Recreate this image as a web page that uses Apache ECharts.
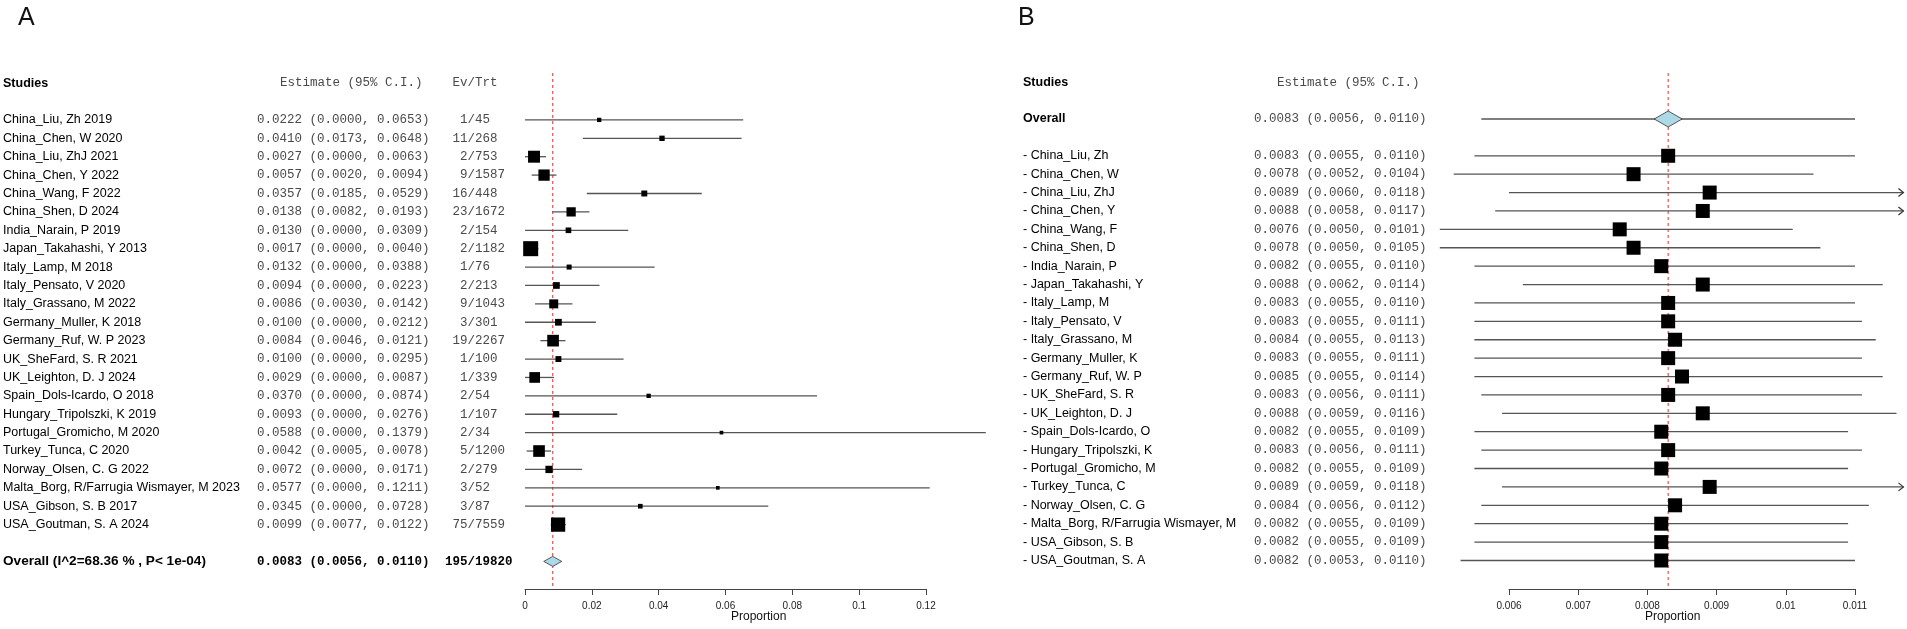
<!DOCTYPE html>
<html>
<head>
<meta charset="utf-8">
<script src="https://cdn.jsdelivr.net/npm/echarts@6/dist/echarts.min.js"></script>
<style>
  html, body { margin: 0; padding: 0; background: #fff; }
  #chart { width: 1907px; height: 629px; }
</style>
</head>
<body>
<div id="chart"></div>
<script>
// panel A - single studies
const studiesA = ['China_Liu, Zh 2019', 'China_Chen, W 2020', 'China_Liu, ZhJ 2021', 'China_Chen, Y 2022',
    'China_Wang, F 2022', 'China_Shen, D 2024', 'India_Narain, P 2019', 'Japan_Takahashi, Y 2013',
    'Italy_Lamp, M 2018', 'Italy_Pensato, V 2020', 'Italy_Grassano, M 2022', 'Germany_Muller, K 2018',
    'Germany_Ruf, W. P 2023', 'UK_SheFard, S. R 2021', 'UK_Leighton, D. J 2024', 'Spain_Dols-Icardo, O 2018',
    'Hungary_Tripolszki, K 2019', 'Portugal_Gromicho, M 2020', 'Turkey_Tunca, C 2020', 'Norway_Olsen, C. G 2022',
    'Malta_Borg, R/Farrugia Wismayer, M 2023', 'USA_Gibson, S. B 2017', 'USA_Goutman, S. A 2024'];
const estA = [0.0222, 0.0410, 0.0027, 0.0057, 0.0357, 0.0138, 0.0130, 0.0017, 0.0132, 0.0094, 0.0086, 0.0100,
    0.0084, 0.0100, 0.0029, 0.0370, 0.0093, 0.0588, 0.0042, 0.0072, 0.0577, 0.0345, 0.0099];
const lowA = [0.0000, 0.0173, 0.0000, 0.0020, 0.0185, 0.0082, 0.0000, 0.0000, 0.0000, 0.0000, 0.0030, 0.0000,
    0.0046, 0.0000, 0.0000, 0.0000, 0.0000, 0.0000, 0.0005, 0.0000, 0.0000, 0.0000, 0.0077];
const highA = [0.0653, 0.0648, 0.0063, 0.0094, 0.0529, 0.0193, 0.0309, 0.0040, 0.0388, 0.0223, 0.0142, 0.0212,
    0.0121, 0.0295, 0.0087, 0.0874, 0.0276, 0.1379, 0.0078, 0.0171, 0.1211, 0.0728, 0.0122];
const eventsA = [1, 11, 2, 9, 16, 23, 2, 2, 1, 2, 9, 3, 19, 1, 1, 2, 1, 2, 5, 2, 3, 3, 75];
const totalA = [45, 268, 753, 1587, 448, 1672, 154, 1182, 76, 213, 1043, 301, 2267, 100, 339, 54, 107, 34,
    1200, 279, 52, 87, 7559];
// study weights (%)
const weightA = [1.1, 1.7, 8.5, 7.6, 2.1, 5.1, 1.9, 13.4, 1.5, 2.7, 4.8, 2.7, 8.1, 2.1, 6.8, 1.1, 2.4, 0.8,
    8.1, 3.2, 0.8, 1.3, 12.1];
const overallA = [0.0083, 0.0056, 0.0110];
const overallEvTrtA = [195, 19820];
const overallLabelA = 'Overall (I^2=68.36 % , P< 1e-04)';
const ticksA = [0, 0.02, 0.04, 0.06, 0.08, 0.1, 0.12];

// panel B - leave-one-out
const studiesB = ['- China_Liu, Zh', '- China_Chen, W', '- China_Liu, ZhJ', '- China_Chen, Y', '- China_Wang, F',
    '- China_Shen, D', '- India_Narain, P', '- Japan_Takahashi, Y', '- Italy_Lamp, M', '- Italy_Pensato, V',
    '- Italy_Grassano, M', '- Germany_Muller, K', '- Germany_Ruf, W. P', '- UK_SheFard, S. R', '- UK_Leighton, D. J',
    '- Spain_Dols-Icardo, O', '- Hungary_Tripolszki, K', '- Portugal_Gromicho, M', '- Turkey_Tunca, C',
    '- Norway_Olsen, C. G', '- Malta_Borg, R/Farrugia Wismayer, M', '- USA_Gibson, S. B', '- USA_Goutman, S. A'];
const estB = [0.0083, 0.0078, 0.0089, 0.0088, 0.0076, 0.0078, 0.0082, 0.0088, 0.0083, 0.0083, 0.0084, 0.0083,
    0.0085, 0.0083, 0.0088, 0.0082, 0.0083, 0.0082, 0.0089, 0.0084, 0.0082, 0.0082, 0.0082];
const lowB = [0.0055, 0.0052, 0.0060, 0.0058, 0.0050, 0.0050, 0.0055, 0.0062, 0.0055, 0.0055, 0.0055, 0.0055,
    0.0055, 0.0056, 0.0059, 0.0055, 0.0056, 0.0055, 0.0059, 0.0056, 0.0055, 0.0055, 0.0053];
const highB = [0.0110, 0.0104, 0.0118, 0.0117, 0.0101, 0.0105, 0.0110, 0.0114, 0.0110, 0.0111, 0.0113, 0.0111,
    0.0114, 0.0111, 0.0116, 0.0109, 0.0111, 0.0109, 0.0118, 0.0112, 0.0109, 0.0109, 0.0110];
const overallB = [0.0083, 0.0056, 0.0110];
const ticksB = [0.006, 0.007, 0.008, 0.009, 0.01, 0.011];
const clipB = 0.0117;   // right end of panel B, longer CIs get an arrow

const SANS = '"Liberation Sans", Arial, sans-serif';
const MONO = '"Liberation Mono", "Courier New", monospace';
const fSans = '12.5px ' + SANS, fSansB = 'bold 12.5px ' + SANS;
const fMono = '12.5px ' + MONO, fMonoB = 'bold 12.5px ' + MONO;
const GREY_TXT = '#4a4a4a';

function ci(e, l, h) {
    return e.toFixed(4) + ' (' + l.toFixed(4) + ', ' + h.toFixed(4) + ')';
}

// text rows placed on the grid's y scale
function textSeries(idx, xDummy, items) {
    return {
        type: 'custom', xAxisIndex: idx, yAxisIndex: idx, clip: false, silent: true, z: 5,
        data: items.map(it => [xDummy, it.row]),
        renderItem: function (params, api) {
            const it = items[params.dataIndex];
            const y = api.coord([api.value(0), api.value(1)])[1];
            return {
                type: 'group',
                children: it.parts.map(p => ({
                    type: 'text', x: p.x, y: y,
                    style: {text: p.text, font: p.font, fill: p.fill, align: p.align || 'left', verticalAlign: 'middle'}
                }))
            };
        }
    };
}

function evParts(ev, n, font, fill) {
    return [{x: 467.5, text: String(ev), font: font, fill: fill, align: 'right'},
        {x: 467.5, text: '/' + n, font: font, fill: fill}];
}

const textA = [{
    row: -2, parts: [{x: 3, text: 'Studies', font: fSansB, fill: '#000'},
        {x: 280, text: 'Estimate (95% C.I.)', font: fMono, fill: GREY_TXT},
        {x: 467.5, text: 'Ev', font: fMono, fill: GREY_TXT, align: 'right'},
        {x: 467.5, text: '/Trt', font: fMono, fill: GREY_TXT}]
}];
studiesA.forEach((s, i) => {
    textA.push({
        row: i, parts: [{x: 3, text: s, font: fSans, fill: '#000'},
            {x: 257, text: ci(estA[i], lowA[i], highA[i]), font: fMono, fill: GREY_TXT}]
            .concat(evParts(eventsA[i], totalA[i], fMono, GREY_TXT))
    });
});
textA.push({
    row: 24, parts: [{x: 3, text: overallLabelA, font: 'bold 13.6px ' + SANS, fill: '#000'},
        {x: 257, text: ci(overallA[0], overallA[1], overallA[2]), font: fMonoB, fill: '#000'}]
        .concat(evParts(overallEvTrtA[0], overallEvTrtA[1], fMonoB, '#000'))
});

const textB = [{
    row: -4, parts: [{x: 1023, text: 'Studies', font: fSansB, fill: '#000'},
        {x: 1277, text: 'Estimate (95% C.I.)', font: fMono, fill: GREY_TXT}]
}, {
    row: -2, parts: [{x: 1023, text: 'Overall', font: fSansB, fill: '#000'},
        {x: 1254, text: ci(overallB[0], overallB[1], overallB[2]), font: fMono, fill: GREY_TXT}]
}];
studiesB.forEach((s, i) => {
    textB.push({
        row: i, parts: [{x: 1023, text: s, font: fSans, fill: '#000'},
            {x: 1254, text: ci(estB[i], lowB[i], highB[i]), font: fMono, fill: GREY_TXT}]
    });
});

function renderStudyA(params, api) {
    const row = api.value(4);
    const pLo = api.coord([api.value(1), row]);
    const pHi = api.coord([api.value(2), row]);
    const pE = api.coord([api.value(0), row]);
    const s = 4.1 * Math.sqrt(api.value(3));
    return {
        type: 'group', children: [
            {type: 'line', shape: {x1: pLo[0], y1: pLo[1], x2: pHi[0], y2: pHi[1]}, style: {stroke: '#555', lineWidth: 1.3}},
            {type: 'rect', shape: {x: pE[0] - s / 2, y: pE[1] - s / 2, width: s, height: s}, style: {fill: '#000'}}
        ]
    };
}

function renderStudyB(params, api) {
    const row = api.value(3);
    const hi = api.value(2);
    const pLo = api.coord([api.value(1), row]);
    const pHi = api.coord([Math.min(hi, clipB), row]);
    const pE = api.coord([api.value(0), row]);
    const s = 14;
    const kids = [
        {type: 'line', shape: {x1: pLo[0], y1: pLo[1], x2: pHi[0], y2: pHi[1]}, style: {stroke: '#555', lineWidth: 1.3}},
        {type: 'rect', shape: {x: pE[0] - s / 2, y: pE[1] - s / 2, width: s, height: s}, style: {fill: '#000'}}
    ];
    if (hi >= clipB) {
        kids.push({
            type: 'polyline',
            shape: {points: [[pHi[0] - 5, pHi[1] - 4], [pHi[0], pHi[1]], [pHi[0] - 5, pHi[1] + 4]]},
            style: {stroke: '#333', lineWidth: 1.2, fill: null}
        });
    }
    return {type: 'group', children: kids};
}

function axisX(gi, min, max, interval) {
    return {
        type: 'value', gridIndex: gi, min: min, max: max, interval: interval, position: 'bottom',
        splitLine: {show: false},
        axisLine: {show: true, onZero: false, lineStyle: {color: '#444', width: 1}},
        axisTick: {show: true, length: 6, lineStyle: {color: '#444'}},
        axisLabel: {
            fontSize: 10, color: '#222', margin: 12, fontFamily: SANS,
            formatter: v => String(parseFloat(v.toFixed(4)))
        }
    };
}

const chart = echarts.init(document.getElementById('chart'), null, {renderer: 'canvas'});
chart.setOption({
    backgroundColor: '#fff',
    animation: false,
    title: [
        {text: 'A', left: 13, top: 1, textStyle: {fontSize: 25, fontWeight: 'normal', color: '#111', fontFamily: SANS}},
        {text: 'B', left: 1013, top: 1, textStyle: {fontSize: 25, fontWeight: 'normal', color: '#111', fontFamily: SANS}}
    ],
    graphic: [
        {type: 'text', left: 731, top: 611, style: {text: 'Proportion', font: '12px ' + SANS, fill: '#111'}},
        {type: 'text', left: 1645, top: 611, style: {text: 'Proportion', font: '12px ' + SANS, fill: '#111'}}
    ],
    grid: [
        {left: 525, width: 401, top: 73, height: 516},
        {left: 1509, width: 346, top: 73, height: 516}
    ],
    xAxis: [axisX(0, ticksA[0], ticksA[ticksA.length - 1], 0.02), axisX(1, ticksB[0], ticksB[ticksB.length - 1], 0.001)],
    yAxis: [
        {type: 'value', gridIndex: 0, min: -2.55, max: 25.5, inverse: true, show: false},
        {type: 'value', gridIndex: 1, min: -4.5, max: 23.55, inverse: true, show: false}
    ],
    series: [
        // reference lines at the pooled estimate
        {
            type: 'line', xAxisIndex: 0, yAxisIndex: 0, symbol: 'none', silent: true, z: 2,
            data: [[overallA[0], -2.55], [overallA[0], 25.5]],
            lineStyle: {color: '#e3342f', width: 1, type: [3, 3]}
        },
        {
            type: 'line', xAxisIndex: 1, yAxisIndex: 1, symbol: 'none', silent: true, z: 2,
            data: [[overallB[0], -4.5], [overallB[0], 23.55]],
            lineStyle: {color: '#e3342f', width: 1, type: [3, 3]}
        },
        {
            type: 'custom', xAxisIndex: 0, yAxisIndex: 0, clip: false, z: 3,
            data: estA.map((e, i) => [e, lowA[i], highA[i], weightA[i], i]),
            renderItem: renderStudyA
        },
        {
            // pooled diamond, panel A
            type: 'custom', xAxisIndex: 0, yAxisIndex: 0, clip: false, z: 3,
            data: [[overallA[0], overallA[1], overallA[2], 24]],
            renderItem: function (params, api) {
                const row = api.value(3);
                const l = api.coord([api.value(1), row]);
                const h = api.coord([api.value(2), row]);
                const e = api.coord([api.value(0), row]);
                return {
                    type: 'polygon',
                    shape: {points: [[l[0], l[1]], [e[0], e[1] - 5], [h[0], h[1]], [e[0], e[1] + 5]]},
                    style: {fill: '#add8e6', stroke: '#333', lineWidth: 0.8}
                };
            }
        },
        {
            type: 'custom', xAxisIndex: 1, yAxisIndex: 1, clip: false, z: 3,
            data: estB.map((e, i) => [e, lowB[i], highB[i], i]),
            renderItem: renderStudyB
        },
        {
            // pooled estimate, panel B
            type: 'custom', xAxisIndex: 1, yAxisIndex: 1, clip: false, z: 3,
            data: [[overallB[0], overallB[1], overallB[2], -2]],
            renderItem: function (params, api) {
                const row = api.value(3);
                const l = api.coord([api.value(1), row]);
                const h = api.coord([api.value(2), row]);
                const e = api.coord([api.value(0), row]);
                return {
                    type: 'group', children: [
                        {type: 'line', shape: {x1: l[0], y1: l[1], x2: h[0], y2: h[1]}, style: {stroke: '#555', lineWidth: 1.3}},
                        {
                            type: 'polygon',
                            shape: {points: [[e[0] - 14, e[1]], [e[0], e[1] - 8], [e[0] + 14, e[1]], [e[0], e[1] + 8]]},
                            style: {fill: '#add8e6', stroke: '#333', lineWidth: 0.8}
                        }
                    ]
                };
            }
        },
        textSeries(0, 0, textA),
        textSeries(1, ticksB[0], textB)
    ]
});
</script>
</body>
</html>
